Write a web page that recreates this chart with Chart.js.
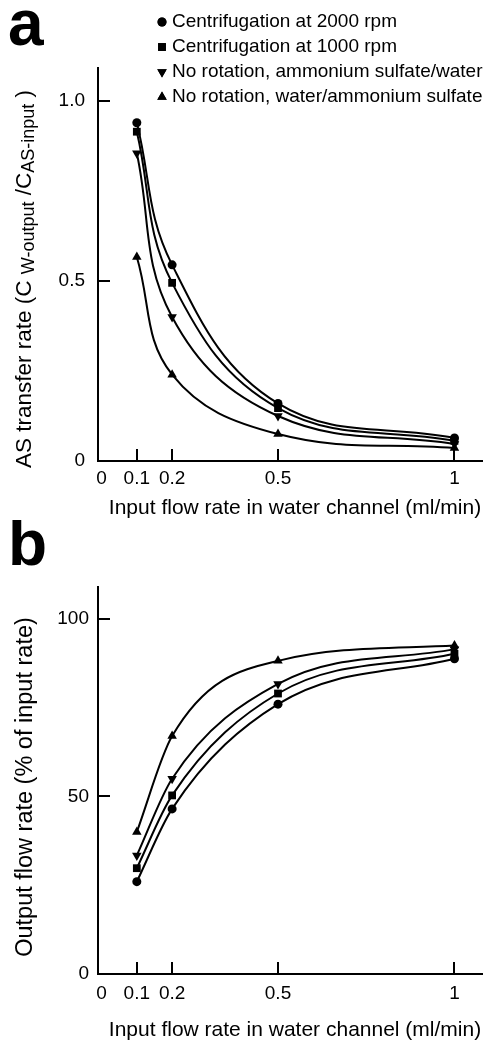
<!DOCTYPE html>
<html lang="en">
<head>
    <meta charset="UTF-8">
    <title>AS transfer rate and output flow rate</title>
    <script src="https://cdn.jsdelivr.net/npm/chart.js"></script>
    <style>
        body { margin: 0; background: #fff; }
        canvas { display: block; }
    </style>
</head>
<body>
    <canvas id="chartA" width="489" height="520"></canvas>
    <canvas id="chartB" width="489" height="522"></canvas>

    <script>
        // data
        var flowRates = [0.1, 0.2, 0.5, 1];
        var seriesLabels = [
            "Centrifugation at 2000 rpm",
            "Centrifugation at 1000 rpm",
            "No rotation, ammonium sulfate/water",
            "No rotation, water/ammonium sulfate"
        ];
        // panel a: AS transfer rate
        var transfer2000 = [0.94, 0.545, 0.16, 0.064];
        var transfer1000 = [0.915, 0.495, 0.147, 0.056];
        var transferAsWater = [0.855, 0.40, 0.125, 0.047];
        var transferWaterAs = [0.567, 0.24, 0.075, 0.036];
        // panel b: output flow rate (%)
        var output2000 = [26, 46.5, 76, 88.8];
        var output1000 = [29.8, 50.3, 79, 90.2];
        var outputAsWater = [33.4, 55, 81.7, 91.5];
        var outputWaterAs = [40, 67, 88.2, 92.5];

        var xTicks = [0, 0.1, 0.2, 0.5, 1];
        var yTicksA = [0, 0.5, 1.0];
        var yTicksB = [0, 50, 100];

        var FONT = "'Liberation Sans', Arial, Helvetica, sans-serif";
        var markers = [
            { pointStyle: "circle", radius: 4.5, rotation: 0 },
            { pointStyle: "rect", radius: 5.5, rotation: 0 },
            { pointStyle: "triangle", radius: 5.5, rotation: 180 },
            { pointStyle: "triangle", radius: 5.5, rotation: 0 }
        ];

        function makeDatasets(seriesList, monotone) {
            return seriesList.map(function (values, i) {
                var ds = {
                    label: seriesLabels[i],
                    data: flowRates.map(function (x, j) { return { x: x, y: values[j] }; }),
                    borderColor: "#000",
                    backgroundColor: "#000",
                    borderWidth: 2,
                    pointStyle: markers[i].pointStyle,
                    pointRadius: markers[i].radius,
                    pointRotation: markers[i].rotation,
                    pointBorderWidth: 0
                };
                if (monotone) ds.cubicInterpolationMode = "monotone";
                else ds.tension = 0.4;
                return ds;
            });
        }

        function drawMarker(ctx, m, x, y) {
            if (Chart.helpers && Chart.helpers.drawPoint) {
                Chart.helpers.drawPoint(ctx, { pointStyle: m.pointStyle, radius: m.radius, rotation: m.rotation, borderWidth: 0 }, x, y);
                ctx.fill();
                return;
            }
            ctx.beginPath();
            ctx.arc(x, y, m.radius, 0, Math.PI * 2);
            ctx.fill();
        }

        function drawRotated(ctx, parts, cx, cy) {
            ctx.save();
            ctx.translate(cx, cy);
            ctx.rotate(-Math.PI / 2);
            ctx.textBaseline = "middle";
            ctx.textAlign = "left";
            var total = 0;
            parts.forEach(function (p) { ctx.font = p.font; total += ctx.measureText(p.text).width; });
            var x = -total / 2;
            parts.forEach(function (p) {
                ctx.font = p.font;
                ctx.fillText(p.text, x, p.dy || 0);
                x += ctx.measureText(p.text).width;
            });
            ctx.restore();
        }

        // tick marks pointing into the plot, plus all the free text
        function decorPlugin(opts) {
            return {
                id: "decor",
                afterDraw: function (chart) {
                    var ctx = chart.ctx;
                    var area = chart.chartArea;
                    var xs = chart.scales.x, ys = chart.scales.y;
                    ctx.save();
                    ctx.strokeStyle = "#000";
                    ctx.fillStyle = "#000";
                    ctx.lineWidth = 2;
                    ctx.beginPath();
                    xs.ticks.forEach(function (t) {
                        if (t.value === 0) return;
                        var px = Math.round(xs.getPixelForValue(t.value));
                        ctx.moveTo(px, area.bottom);
                        ctx.lineTo(px, area.bottom - 12);
                    });
                    ys.ticks.forEach(function (t) {
                        if (t.value === 0) return;
                        var py = Math.round(ys.getPixelForValue(t.value));
                        ctx.moveTo(area.left, py);
                        ctx.lineTo(area.left + 12, py);
                    });
                    ctx.stroke();

                    // panel letter
                    ctx.font = "bold 64px " + FONT;
                    ctx.textAlign = "left";
                    ctx.textBaseline = "alphabetic";
                    ctx.fillText(opts.letter, 8, 45);

                    // x axis title
                    ctx.font = "21px " + FONT;
                    ctx.textAlign = "center";
                    ctx.textBaseline = "middle";
                    ctx.fillText("Input flow rate in water channel (ml/min)", 295, opts.xTitleY);

                    // y axis title
                    drawRotated(ctx, opts.yTitle, opts.yTitleX, opts.yTitleY);

                    // legend
                    if (opts.legend) {
                        chart.data.datasets.forEach(function (ds, i) {
                            var y = 22 + i * 25;
                            drawMarker(ctx, markers[i], 162, y);
                            ctx.font = "19px " + FONT;
                            ctx.textAlign = "left";
                            ctx.textBaseline = "middle";
                            ctx.fillText(ds.label, 172, y);
                        });
                    }
                    ctx.restore();
                }
            };
        }

        function makeChart(id, datasets, yMax, yTicks, yFmt, layout, opts) {
            return new Chart(document.getElementById(id), {
                type: "line",
                data: { datasets: datasets },
                options: {
                    responsive: false,
                    animation: false,
                    layout: { padding: { top: layout.top, right: 7, left: 0, bottom: 0 } },
                    plugins: { legend: { display: false }, tooltip: { enabled: false } },
                    scales: {
                        x: {
                            type: "linear",
                            min: -0.01,
                            max: 1.078,
                            afterBuildTicks: function (s) { s.ticks = xTicks.map(function (v) { return { value: v }; }); },
                            afterFit: function (s) { s.height = layout.xHeight; },
                            grid: { display: true, drawOnChartArea: false, drawTicks: false },
                            border: { display: true, color: "#000", width: 2 },
                            ticks: {
                                autoSkip: false,
                                maxRotation: 0,
                                color: "#000",
                                padding: layout.xPad,
                                font: { family: FONT, size: 19 },
                                callback: function (v) { return String(v); }
                            }
                        },
                        y: {
                            type: "linear",
                            min: 0,
                            max: yMax,
                            afterBuildTicks: function (s) { s.ticks = yTicks.map(function (v) { return { value: v }; }); },
                            afterFit: function (s) { s.width = 98; },
                            grid: { display: true, drawOnChartArea: false, drawTicks: false },
                            border: { display: true, color: "#000", width: 2 },
                            ticks: {
                                color: "#000",
                                padding: layout.yPad,
                                font: { family: FONT, size: 19 },
                                callback: yFmt
                            }
                        }
                    }
                },
                plugins: [decorPlugin(opts)]
            });
        }

        var sub = "18px " + FONT;
        var main = "22.5px " + FONT;

        makeChart("chartA",
            makeDatasets([transfer2000, transfer1000, transferAsWater, transferWaterAs], false),
            1.092, yTicksA,
            function (v) { return v === 0 ? "0" : v.toFixed(1); },
            { top: 68, xHeight: 59, xPad: 6, yPad: 13 },
            {
                letter: "a",
                legend: true,
                xTitleY: 508,
                yTitleX: 25,
                yTitleY: 279,
                yTitle: [
                    { text: "AS transfer rate (C ", font: main },
                    { text: "W-output", font: sub, dy: 4 },
                    { text: " /C", font: main },
                    { text: "AS-input", font: sub, dy: 4 },
                    { text: " )", font: main }
                ]
            });

        makeChart("chartB",
            makeDatasets([output2000, output1000, outputAsWater, outputWaterAs], true),
            109, yTicksB,
            function (v) { return String(v); },
            { top: 67, xHeight: 68, xPad: 8, yPad: 9 },
            {
                letter: "b",
                legend: false,
                xTitleY: 510,
                yTitleX: 26,
                yTitleY: 267,
                yTitle: [
                    { text: "Output flow rate (% of input rate)", font: "23.5px " + FONT }
                ]
            });
    </script>
</body>
</html>
